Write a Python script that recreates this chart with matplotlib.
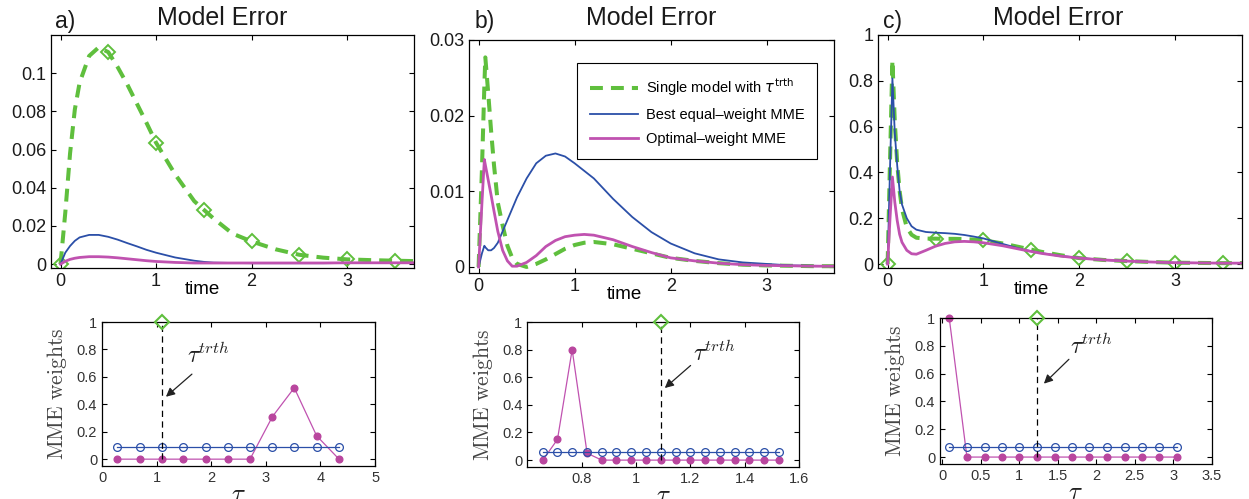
import matplotlib
matplotlib.use("Agg")  # non-interactive backend
import matplotlib.pyplot as plt
from matplotlib.lines import Line2D
from matplotlib.ticker import FuncFormatter

plt.rcParams["font.family"] = ["Liberation Sans", "DejaVu Sans"]

GREEN = "#5fbf3d"
BLUE = "#2b4fa8"
MAGENTA = "#c052b0"
DOT = "#b9469e"

# ---- model error curves ----
diamond_times = [0, 0.5, 1.0, 1.5, 2.0, 2.5, 3.0, 3.5]

t_a = [0, 0.05, 0.1, 0.15, 0.2, 0.3, 0.4, 0.5, 0.6, 0.7, 0.8, 0.9, 1.0, 1.2,
       1.4, 1.5, 1.6, 1.8, 2.0, 2.25, 2.5, 2.75, 3.0, 3.25, 3.5, 3.7]
single_a = [0, 0.027, 0.058, 0.081, 0.095, 0.109, 0.1135, 0.111, 0.103, 0.094,
            0.084, 0.074, 0.0636, 0.047, 0.033, 0.0285, 0.024, 0.016, 0.0119,
            0.0078, 0.0049, 0.0034, 0.0025, 0.0021, 0.0018, 0.0016]
equal_a = [0, 0.006, 0.0095, 0.0122, 0.014, 0.0153, 0.0153, 0.0143, 0.0128,
           0.011, 0.0093, 0.0075, 0.006, 0.0035, 0.0018, 0.0012, 0.0008,
           0.0006, 0.0005, 0.0005, 0.0005, 0.0005, 0.0006, 0.0006, 0.0006, 0.0006]
optimal_a = [0, 0.0015, 0.0025, 0.0031, 0.0035, 0.0039, 0.0039, 0.0037, 0.0033,
             0.0028, 0.0023, 0.0018, 0.0014, 0.0009, 0.0006, 0.0006, 0.0006,
             0.0006, 0.0006, 0.0006, 0.0006, 0.0006, 0.0007, 0.0007, 0.0007, 0.0007]

t_b = [0, 0.035, 0.06, 0.07, 0.1, 0.13, 0.16, 0.2, 0.25, 0.3, 0.35, 0.4, 0.5,
       0.6, 0.7, 0.8, 0.9, 1.0, 1.1, 1.2, 1.4, 1.6, 1.8, 2.0, 2.25, 2.5, 2.75,
       3.0, 3.25, 3.5, 3.7]
single_b = [0, 0.013, 0.024, 0.0277, 0.023, 0.018, 0.0135, 0.0085, 0.0055,
            0.0028, 0.0012, 0.0004, 0.0, 0.0004, 0.001, 0.0017, 0.0024, 0.0029,
            0.0032, 0.0033, 0.003, 0.0024, 0.0018, 0.0012, 0.0008, 0.0005,
            0.0003, 0.0002, 0.00015, 0.0001, 0.0001]
equal_b = [0, 0.0018, 0.0028, 0.0026, 0.0022, 0.0022, 0.0025, 0.0032, 0.0047,
           0.0062, 0.0077, 0.0092, 0.0117, 0.0137, 0.0147, 0.015, 0.0146,
           0.0137, 0.0127, 0.0117, 0.009, 0.0066, 0.0046, 0.0031, 0.0018,
           0.001, 0.0006, 0.0004, 0.0002, 0.00015, 0.0001]
optimal_b = [0, 0.0085, 0.0142, 0.0135, 0.0115, 0.0095, 0.0074, 0.0047, 0.0022,
             0.0008, 0.0001, 0.0001, 0.0006, 0.0015, 0.0027, 0.0035, 0.004,
             0.0042, 0.0043, 0.0042, 0.0036, 0.0027, 0.0019, 0.0012, 0.0008,
             0.0005, 0.0003, 0.0002, 0.00015, 0.0001, 0.0001]

t_c = [0, 0.025, 0.05, 0.075, 0.1, 0.125, 0.15, 0.2, 0.25, 0.3, 0.4, 0.5, 0.6,
       0.7, 0.8, 0.9, 1.0, 1.2, 1.4, 1.5, 1.6, 1.8, 2.0, 2.25, 2.5, 2.75, 3.0,
       3.25, 3.5, 3.7]
single_c = [0, 0.45, 0.89, 0.62, 0.44, 0.32, 0.24, 0.16, 0.128, 0.115, 0.111,
            0.111, 0.11, 0.11, 0.109, 0.107, 0.104, 0.09, 0.072, 0.063, 0.054,
            0.039, 0.026, 0.018, 0.013, 0.009, 0.006, 0.005, 0.004, 0.004]
equal_c = [0, 0.42, 0.81, 0.57, 0.43, 0.32, 0.26, 0.2, 0.165, 0.15, 0.14, 0.137,
           0.135, 0.132, 0.127, 0.12, 0.112, 0.088, 0.065, 0.056, 0.048, 0.036,
           0.027, 0.018, 0.013, 0.009, 0.006, 0.005, 0.004, 0.004]
optimal_c = [0, 0.2, 0.38, 0.27, 0.19, 0.13, 0.095, 0.06, 0.045, 0.043, 0.06,
             0.078, 0.09, 0.097, 0.099, 0.097, 0.093, 0.08, 0.063, 0.055, 0.047,
             0.035, 0.026, 0.018, 0.013, 0.009, 0.006, 0.005, 0.004, 0.004]

# ---- MME weights ----
tau_a = [0.27, 0.69, 1.09, 1.49, 1.90, 2.30, 2.71, 3.12, 3.52, 3.93, 4.34]
w_equal_a = [0.091, 0.091, 0.091, 0.091, 0.091, 0.091, 0.091, 0.091, 0.091,
             0.091, 0.091]
w_optimal_a = [0, 0, 0, 0, 0, 0, 0, 0.31, 0.52, 0.17, 0]
tau_trth_a = 1.09

tau_b = [0.657, 0.711, 0.765, 0.820, 0.874, 0.928, 0.983, 1.037, 1.091, 1.146,
         1.200, 1.254, 1.309, 1.363, 1.417, 1.471, 1.526]
w_equal_b = [0.059, 0.059, 0.059, 0.059, 0.059, 0.059, 0.059, 0.059, 0.059,
             0.059, 0.059, 0.059, 0.059, 0.059, 0.059, 0.059, 0.059]
w_optimal_b = [0, 0.15, 0.80, 0.05, 0, 0, 0, 0, 0, 0, 0, 0, 0, 0, 0, 0, 0]
tau_trth_b = 1.091

tau_c = [0.09, 0.32, 0.55, 0.77, 1.00, 1.23, 1.46, 1.68, 1.91, 2.14, 2.37,
         2.59, 2.82, 3.05]
w_equal_c = [0.072, 0.072, 0.072, 0.072, 0.072, 0.072, 0.072, 0.072, 0.072,
             0.072, 0.072, 0.072, 0.072, 0.072]
w_optimal_c = [1, 0, 0, 0, 0, 0, 0, 0, 0, 0, 0, 0, 0, 0]
tau_trth_c = 1.23

fmt_g = FuncFormatter(lambda v, _: f"{v:g}")
DASH = (0, (3.2, 2.0))


def _box_ticks(ax, size, color):
    ax.tick_params(direction="in", top=True, right=True, length=3.5,
                   width=0.8, labelsize=size, colors="k", labelcolor=color)
    for spine in ax.spines.values():
        spine.set_linewidth(0.9)


def error_panel(rect, t, single, equal, optimal, ylim, yticks, label_x,
                diamonds=True):
    ax = fig.add_axes(rect)
    idx = [i for i, v in enumerate(t) if v in diamond_times]
    if diamonds:
        ax.plot(t, single, color=GREEN, lw=2.9, ls=DASH, marker="D",
                markevery=idx, ms=6.8, mfc="none", mec=GREEN, mew=1.4)
    else:
        ax.plot(t, single, color=GREEN, lw=2.9, ls=DASH)
    ax.plot(t, equal, color=BLUE, lw=1.3)
    ax.plot(t, optimal, color=MAGENTA, lw=2.0)
    ax.set_xlim(-0.1, 3.7)
    ax.set_ylim(*ylim)
    ax.set_xticks([0, 1, 2, 3])
    ax.set_yticks(yticks)
    ax.xaxis.set_major_formatter(fmt_g)
    ax.yaxis.set_major_formatter(fmt_g)
    _box_ticks(ax, 13, "#1a1a1a")
    ax.set_xlabel("time", fontsize=13.5, va="top")
    ax.xaxis.set_label_coords(label_x, -0.055)
    return ax


def weight_panel(rect, tau, w_equal, w_optimal, tau_trth, xlim, xticks,
                 text_xy, arrow_tail, arrow_head):
    ax = fig.add_axes(rect)
    ax.plot(tau, w_optimal, color=MAGENTA, lw=0.9, marker="o", ms=4.8,
            mfc=DOT, mec=DOT, zorder=2, clip_on=False)
    ax.plot(tau, w_equal, color=BLUE, lw=0.9, marker="o", ms=5.6,
            mfc="none", mec=BLUE, mew=0.9, zorder=3, clip_on=False)
    ax.plot([tau_trth, tau_trth], [0, 1], color="k", lw=0.9,
            ls=(0, (5, 3.5)), zorder=4)
    ax.plot([tau_trth], [1], marker="D", ms=6.8, mfc="none", mec=GREEN,
            mew=1.5, clip_on=False, zorder=5)
    ax.set_xlim(*xlim)
    ax.set_ylim(-0.05, 1)
    ax.set_xticks(xticks)
    ax.set_yticks([0, 0.2, 0.4, 0.6, 0.8, 1])
    ax.xaxis.set_major_formatter(fmt_g)
    ax.yaxis.set_major_formatter(fmt_g)
    _box_ticks(ax, 10.5, "#333333")
    ax.set_ylabel(r"$\mathrm{MME\ weights}$", fontsize=15.5,
                  math_fontfamily="cm", color="#444444")
    ax.yaxis.set_label_coords(-0.12, 0.5)
    ax.set_xlabel(r"$\tau$", fontsize=18, math_fontfamily="cm", va="top",
                  color="#222222")
    ax.xaxis.set_label_coords(0.5, -0.11)
    ax.text(*text_xy, r"$\tau^{trth}$", fontsize=17, math_fontfamily="cm",
            va="baseline", ha="left", color="#222222")
    ax.annotate("", xy=arrow_head, xytext=arrow_tail,
                arrowprops=dict(arrowstyle="-|>", color="#222222", lw=0.9,
                                mutation_scale=13, shrinkA=0, shrinkB=0))
    return ax


fig = plt.figure(figsize=(12.49, 4.99), dpi=100)

error_panel([0.0408, 0.463, 0.2906, 0.467], t_a, single_a, equal_a, optimal_a,
            (-0.002, 0.12), [0, 0.02, 0.04, 0.06, 0.08, 0.1], 0.416)
ax_b = error_panel([0.3755, 0.4529, 0.2922, 0.467], t_b, single_b, equal_b,
                   optimal_b, (-0.0008, 0.03), [0, 0.01, 0.02, 0.03], 0.425,
                   diamonds=False)
error_panel([0.703, 0.463, 0.2914, 0.467], t_c, single_c, equal_c, optimal_c,
            (-0.017, 1), [0, 0.2, 0.4, 0.6, 0.8, 1], 0.42)

# legend for the three error curves sits in panel b
handles = [
    Line2D([], [], color=GREEN, lw=2.9, ls=DASH),
    Line2D([], [], color=BLUE, lw=1.3),
    Line2D([], [], color=MAGENTA, lw=2.0),
]
labels = [r"Single model with $\tau^{\rm trth}$",
          "Best equal\u2013weight MME", "Optimal\u2013weight MME"]
leg = ax_b.legend(handles, labels, loc="upper left",
                  bbox_to_anchor=(0.296, 0.901), borderaxespad=0,
                  fontsize=10.5, handlelength=3.3, handletextpad=0.5,
                  labelspacing=0.7, borderpad=0.9, fancybox=False,
                  framealpha=1)
leg.get_frame().set_edgecolor("k")
leg.get_frame().set_linewidth(0.8)

weight_panel([0.0817, 0.0661, 0.2186, 0.2886], tau_a, w_equal_a, w_optimal_a,
             tau_trth_a, (0, 5), [0, 1, 2, 3, 4, 5],
             (1.555, 0.70), (1.646, 0.62), (1.17, 0.455))
weight_panel([0.4222, 0.0641, 0.2175, 0.2906], tau_b, w_equal_b, w_optimal_b,
             tau_trth_b, (0.6, 1.6), [0.8, 1.0, 1.2, 1.4, 1.6],
             (1.21, 0.716), (1.201, 0.685), (1.106, 0.522))
weight_panel([0.7526, 0.0701, 0.2175, 0.2926], tau_c, w_equal_c, w_optimal_c,
             tau_trth_c, (-0.03, 3.5), [0, 0.5, 1, 1.5, 2, 2.5, 3, 3.5],
             (1.66, 0.74), (1.645, 0.703), (1.32, 0.528))

# panel tags and titles
title_y = 1 - 25 / 499
for tag, tag_x, title_x in [("a)", 55, 222), ("b)", 475, 651), ("c)", 883, 1058)]:
    fig.text(tag_x / 1249, 1 - 28 / 499, tag, fontsize=16.5, va="baseline",
             ha="left", color="#1a1a1a")
    fig.text(title_x / 1249, title_y, "Model Error", fontsize=18,
             va="baseline", ha="center", color="#1a1a1a")

fig.savefig("out.png", dpi=100, facecolor="white")
